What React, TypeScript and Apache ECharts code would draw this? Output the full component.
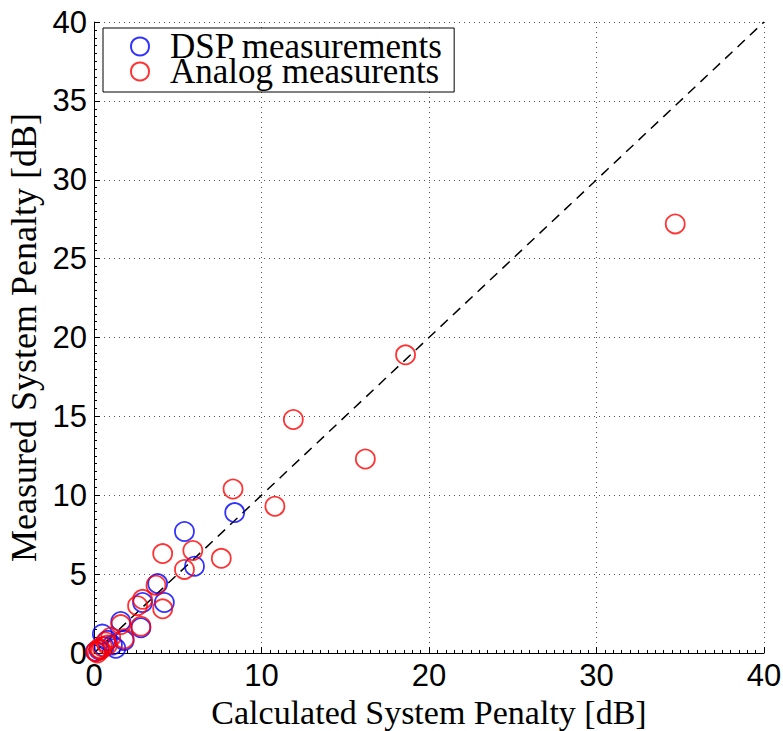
import React, { useEffect, useRef } from "react";
import * as echarts from "echarts";

// Calculated vs. measured system penalty, in dB
const dspCalculated = [8.4, 5.4, 6.0, 3.8, 2.9, 4.2, 1.6, 2.8, 0.5, 1.8, 1.1, 0.8, 1.3, 0.3, 0.6, 0.1];
const dspMeasured = [8.9, 7.7, 5.5, 4.4, 3.2, 3.2, 2.0, 1.6, 1.2, 0.8, 0.5, 0.8, 0.3, 0.2, 0.4, 0.1];

const analogCalculated = [
  34.7, 18.6, 11.9, 16.2, 10.8, 8.3, 4.1, 5.9, 7.6, 5.4, 3.7, 2.9, 2.6, 4.1, 2.8, 1.6, 1.8, 1.0, 0.7, 0.5, 0.3,
  0.1, 0.2, 0.4, 0.8,
];
const analogMeasured = [
  27.2, 18.9, 14.8, 12.3, 9.3, 10.4, 6.3, 6.5, 6.0, 5.3, 4.3, 3.4, 3.0, 2.8, 1.7, 1.8, 0.9, 1.0, 0.7, 0.4, 0.3,
  0.1, 0.0, 0.2, 0.5,
];

// Ideal agreement: measured = calculated
const identityX = [0, 40];
const identityY = [0, 40];

const xTicks = { min: 0, max: 40, interval: 10 };
const yTicks = { min: 0, max: 40, interval: 5 };

const seriesNames = ["DSP measurements", "Analog measurents"];

const pairs = (xs: number[], ys: number[]) => xs.map((x, i) => [x, ys[i]]);

const SANS = "'Liberation Sans', Arial, Helvetica, sans-serif";
const SERIF = "'Liberation Serif', 'Times New Roman', serif";

export default function App() {
  const ref = useRef<HTMLDivElement>(null);

  useEffect(() => {
    if (!ref.current) return;
    const chart = echarts.init(ref.current, undefined, { renderer: "svg" });

    const gridLine = { show: true, lineStyle: { color: "#555", width: 1, type: [1, 4] as number[] } };

    chart.setOption({
      animation: false,
      backgroundColor: "#fff",
      grid: { left: 94, right: 19, top: 22, bottom: 78, containLabel: false, outerBoundsMode: "none" },
      legend: {
        orient: "vertical",
        left: 103,
        top: 28,
        padding: [1, 11, 3, 27],
        itemGap: -10,
        itemWidth: 20,
        itemHeight: 18,
        backgroundColor: "#fff",
        borderColor: "#000",
        borderWidth: 1,
        borderRadius: 0,
        textStyle: { fontFamily: SERIF, fontSize: 35, color: "#000", padding: [0, 0, 0, 15] },
        data: [
          {
            name: seriesNames[0],
            icon: "circle",
            itemStyle: { color: "transparent", borderColor: "#0000ff", borderWidth: 2 },
          },
          {
            name: seriesNames[1],
            icon: "circle",
            itemStyle: { color: "transparent", borderColor: "#ff0000", borderWidth: 2 },
          },
        ],
      },
      xAxis: {
        type: "value",
        ...xTicks,
        name: "Calculated System Penalty [dB]",
        nameLocation: "middle",
        nameGap: 32,
        nameTextStyle: { fontFamily: SERIF, fontSize: 34, color: "#000" },
        axisLine: { show: true, lineStyle: { color: "#000", width: 1 } },
        axisTick: { show: true, inside: true, length: 6, lineStyle: { color: "#000" } },
        minorTick: { show: true, splitNumber: 20, length: 3, lineStyle: { color: "#000" } },
        axisLabel: { fontFamily: SANS, fontSize: 31, color: "#000", margin: 7 },
        splitLine: gridLine,
      },
      yAxis: {
        type: "value",
        ...yTicks,
        name: "Measured System Penalty [dB]",
        nameLocation: "middle",
        nameGap: 51,
        nameTextStyle: { fontFamily: SERIF, fontSize: 36, color: "#000" },
        axisLine: { show: true, lineStyle: { color: "#000", width: 1 } },
        axisTick: { show: true, inside: true, length: 6, lineStyle: { color: "#000" } },
        minorTick: { show: true, splitNumber: 10, length: 3, lineStyle: { color: "#000" } },
        axisLabel: { fontFamily: SANS, fontSize: 31, color: "#000", margin: 7 },
        splitLine: gridLine,
      },
      series: [
        {
          name: "identity",
          type: "line",
          data: pairs(identityX, identityY),
          symbol: "none",
          silent: true,
          lineStyle: { color: "#000", width: 1.5, type: [10, 7] },
          z: 1,
        },
        {
          name: seriesNames[0],
          type: "scatter",
          data: pairs(dspCalculated, dspMeasured),
          symbol: "circle",
          symbolSize: 19,
          itemStyle: { color: "transparent", borderColor: "#0000ff", borderWidth: 1.8 },
          z: 2,
        },
        {
          name: seriesNames[1],
          type: "scatter",
          data: pairs(analogCalculated, analogMeasured),
          symbol: "circle",
          symbolSize: 19,
          itemStyle: { color: "transparent", borderColor: "#ff0000", borderWidth: 1.8 },
          z: 3,
        },
      ],
    });

    return () => chart.dispose();
  }, []);

  return <div ref={ref} style={{ width: 783, height: 731, position: "absolute", left: 0, top: 0 }} />;
}
